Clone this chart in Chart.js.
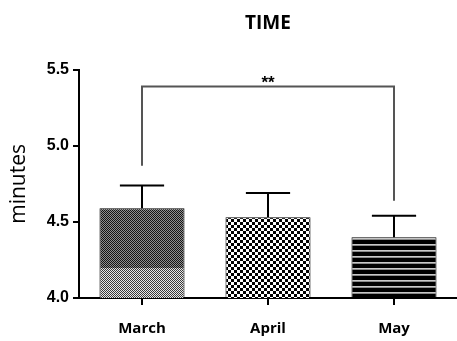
<!DOCTYPE html>
<html>
<head>
<meta charset="utf-8">
<script src="https://cdn.jsdelivr.net/npm/chart.js@4/dist/chart.umd.min.js"></script>
<style>
  html, body { margin: 0; padding: 0; background: #fff; }
  #wrap { width: 457px; height: 341px; }
</style>
</head>
<body>
<div id="wrap"><canvas id="c" width="457" height="341"></canvas></div>
<script>
// ---- data ----
const categories = ['March', 'April', 'May'];
const meanValues = [4.59, 4.53, 4.40];
const sdValues = [0.15, 0.16, 0.14];
const yTicks = [4.0, 4.5, 5.0, 5.5];
const sigPair = [0, 2];
const sigLabel = '**';
const sigLevel = 5.39;
const sigLegBottoms = [4.87, 4.64];
const marchSplit = 4.2;

// ---- patterns ----
function tile(w, h, draw) {
  const c = document.createElement('canvas');
  c.width = w; c.height = h;
  draw(c.getContext('2d'));
  return c;
}
function marchPattern(chart) {
  const ys = chart.scales && chart.scales.y;
  const H = chart.height;
  const splitPx = ys ? Math.round(ys.getPixelForValue(marchSplit)) : H;
  const c = tile(2, H, g => {
    for (let y = 0; y < H; y++) {
      const light = y >= splitPx;
      const a = light ? '#3a3a3a' : '#141414';
      const b = light ? '#e8e8e8' : '#909090';
      g.fillStyle = (y % 2 === 0) ? a : b; g.fillRect(0, y, 1, 1);
      g.fillStyle = (y % 2 === 0) ? b : a; g.fillRect(1, y, 1, 1);
    }
  });
  return chart.ctx.createPattern(c, 'repeat');
}
function aprilPattern(chart) {
  const c = tile(6, 6, g => {
    g.fillStyle = '#fff'; g.fillRect(0, 0, 6, 6);
    g.fillStyle = '#000';
    g.fillRect(0, 0, 3, 3); g.fillRect(3, 3, 3, 3);
  });
  return chart.ctx.createPattern(c, 'repeat');
}
function mayPattern(chart) {
  const c = tile(4, 6, g => {
    g.fillStyle = '#000'; g.fillRect(0, 0, 4, 6);
    g.fillStyle = '#c8c8c8'; g.fillRect(0, 4, 4, 1);
    g.fillStyle = '#8a8a8a'; g.fillRect(0, 5, 4, 1);
  });
  return chart.ctx.createPattern(c, 'repeat');
}
const patternMakers = [marchPattern, aprilPattern, mayPattern];

// ---- plugin: error bars + significance bracket ----
const extras = {
  id: 'extras',
  afterDatasetsDraw(chart) {
    const ctx = chart.ctx;
    const ys = chart.scales.y;
    const meta = chart.getDatasetMeta(0);
    ctx.save();
    ctx.strokeStyle = '#000';
    ctx.lineWidth = 2;
    meta.data.forEach((bar, i) => {
      const x = bar.x;
      const yb = ys.getPixelForValue(meanValues[i]);
      const yt = ys.getPixelForValue(meanValues[i] + sdValues[i]);
      const half = bar.width * 0.26;
      ctx.beginPath();
      ctx.moveTo(x, yb); ctx.lineTo(x, yt);
      ctx.moveTo(x - half, yt); ctx.lineTo(x + half, yt);
      ctx.stroke();
    });
    const x1 = meta.data[sigPair[0]].x;
    const x2 = meta.data[sigPair[1]].x;
    const yl = ys.getPixelForValue(sigLevel);
    ctx.strokeStyle = '#555';
    ctx.lineWidth = 2;
    ctx.beginPath();
    ctx.moveTo(x1, ys.getPixelForValue(sigLegBottoms[0]));
    ctx.lineTo(x1, yl);
    ctx.lineTo(x2, yl);
    ctx.lineTo(x2, ys.getPixelForValue(sigLegBottoms[1]));
    ctx.stroke();
    ctx.fillStyle = '#000';
    ctx.font = 'bold 17px "Liberation Sans", Arial, sans-serif';
    ctx.textAlign = 'center';
    ctx.textBaseline = 'alphabetic';
    ctx.fillText(sigLabel, (x1 + x2) / 2, yl + 1);
    ctx.restore();
  }
};

new Chart(document.getElementById('c'), {
  type: 'bar',
  data: {
    labels: categories,
    datasets: [{
      data: meanValues,
      backgroundColor: (ctx) => patternMakers[ctx.dataIndex % 3](ctx.chart),
      borderColor: '#000',
      borderWidth: 1,
      categoryPercentage: 1,
      barPercentage: 0.675
    }]
  },
  options: {
    responsive: false,
    animation: false,
    events: [],
    layout: { padding: { left: 0, right: 0, top: 0, bottom: 0 } },
    plugins: {
      legend: { display: false },
      tooltip: { enabled: false },
      title: {
        display: true,
        fullSize: false,
        text: 'TIME',
        color: '#000',
        font: { family: '"Open Sans", sans-serif', size: 19, weight: 'bold', lineHeight: 1.2 },
        padding: { top: 12, bottom: 35 }
      }
    },
    scales: {
      x: {
        offset: true,
        grid: { display: true, drawOnChartArea: false, offset: false, color: '#000', lineWidth: 2, tickLength: 7 },
        border: { display: true, color: '#000', width: 2 },
        ticks: {
          color: '#000',
          padding: 15,
          font: { family: '"Open Sans", sans-serif', size: 15, weight: 'bold' }
        },
        afterFit(scale) { scale.height = 43; }
      },
      y: {
        min: 4.0,
        max: 5.5,
        afterBuildTicks(scale) { scale.ticks = yTicks.map(v => ({ value: v })); },
        grid: { display: true, drawOnChartArea: false, color: '#000', lineWidth: 2, tickLength: 6 },
        border: { display: true, color: '#000', width: 2 },
        ticks: {
          color: '#000',
          padding: 4,
          font: { family: '"Liberation Sans", Arial, sans-serif', size: 16, weight: 'bold' },
          callback: (v) => Number(v).toFixed(1)
        },
        title: {
          display: true,
          text: 'minutes',
          color: '#000',
          padding: { top: 6, bottom: 0 },
          font: { family: '"Open Sans", sans-serif', size: 21 }
        },
        afterFit(scale) { scale.width = 79; }
      }
    }
  },
  plugins: [extras]
});
</script>
</body>
</html>
